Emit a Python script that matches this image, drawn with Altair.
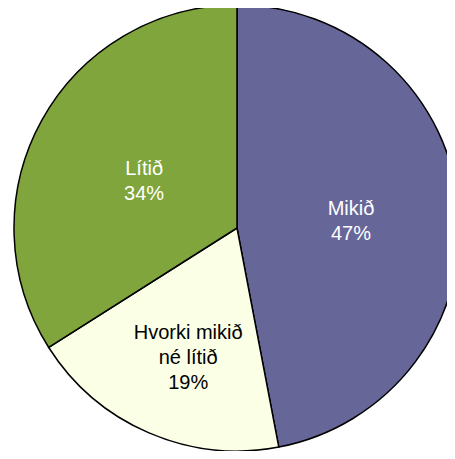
import altair as alt
import pandas as pd
import math

categories = ["Mikið", "Hvorki mikið\nné lítið", "Lítið"]
values = [47, 19, 34]
slice_colors = ["#666699", "#FAFFE6", "#7FA53C"]
label_colors = ["#FFFFFF", "#000000", "#FFFFFF"]

df = pd.DataFrame({"cat": categories, "val": values, "idx": list(range(len(values)))})
df["label"] = [f"{c}\n{v}%" for c, v in zip(categories, values)]

cx, cy = 229, 220
tscale = alt.Scale(domain=[0, 100], range=[0, 2 * math.pi])

base = alt.Chart(df).transform_window(
    end="sum(val)", sort=[alt.SortField("idx")], frame=[None, 0]
).transform_calculate(
    start="datum.end - datum.val",
    mid="datum.end - datum.val / 2",
    r="datum.idx == 0 ? 114.5 : (datum.idx == 1 ? 123 : 106)",
).encode(
    x=alt.value(cx),
    y=alt.value(cy),
)

pie = base.mark_arc(radius=223, stroke="#000000", strokeWidth=1.5).encode(
    theta=alt.Theta("start:Q", scale=tscale),
    theta2="end:Q",
    color=alt.Color("cat:N", scale=alt.Scale(domain=categories, range=slice_colors), legend=None),
)

font = "Liberation Sans Narrow, Arial Narrow, Liberation Sans, Arial"

txt = base.mark_text(
    font=font, fontSize=20, lineBreak="\n", lineHeight=25,
    align="center", baseline="middle", dy=-8
).encode(
    theta=alt.Theta("mid:Q", scale=tscale),
    radius=alt.Radius("r:Q", scale=None),
    text="label:N",
    color=alt.Color("cat:N", scale=alt.Scale(domain=categories, range=label_colors), legend=None),
)

chart = alt.layer(pie, txt).resolve_scale(color="independent").properties(
    width=439, height=443, padding=0, autosize=alt.AutoSizeParams(type="none")
).configure_view(stroke=None)

chart.save("out.html", embed_options={"renderer": "svg", "actions": False})
